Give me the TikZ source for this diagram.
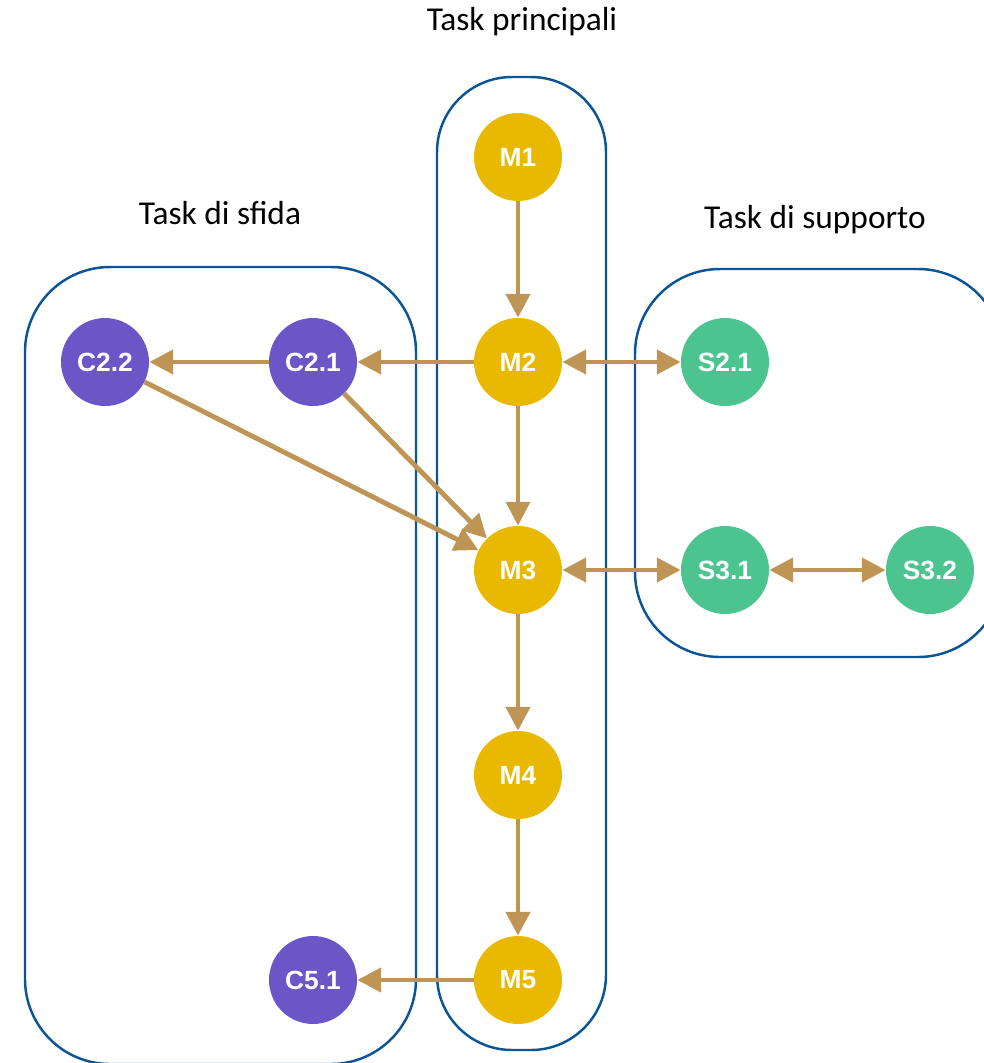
\documentclass[tikz,border=0pt]{standalone}
\usepackage{fontspec}
\setmainfont{Carlito}
\newfontfamily\nodefont{Liberation Sans}
\usetikzlibrary{arrows.meta,positioning}
\definecolor{taskmain}{HTML}{E8B900}
\definecolor{tasksfida}{HTML}{6A56C6}
\definecolor{tasksupp}{HTML}{4CC490}
\definecolor{freccia}{HTML}{BF9556}
\definecolor{bordo}{HTML}{0B5597}
\tikzset{
  task/.style={circle, minimum size=1.76cm, inner sep=0pt, text=white,
    font=\nodefont\bfseries\fontsize{15}{18}\selectfont},
  principale/.style={task, fill=taskmain},
  sfida/.style={task, fill=tasksfida},
  supporto/.style={task, fill=tasksupp},
  legame/.style={draw=freccia, line width=2.8pt,
    -{Triangle[length=13.5pt,width=13.5pt]}},
  doppio/.style={legame, {Triangle[length=13.5pt,width=13.5pt]}-{Triangle[length=13.5pt,width=13.5pt]}},
  gruppo/.style={draw=bordo, line width=1.4pt, rounded corners=1.7cm},
  titolo/.style={font=\fontsize{19}{23}\selectfont}
}
\begin{document}
\begin{tikzpicture}[x=0.02cm,y=-0.02cm]
		\useasboundingbox (0,0) rectangle (984,1063);
		\clip (0,0) rectangle (984,1063);
		% riquadri
		\draw[gruppo, rounded corners=1.5cm] (437,77) rectangle (606,1050);
		\draw[gruppo] (25,267) rectangle (416,1064);
		\draw[gruppo] (635,269) rectangle (1003,657);
		% titoli
		\node[titolo] (tprinc) at (522,22) {Task principali};
		\node[titolo] (tsfida) at (220,213) {Task di sfida};
		\node[titolo] (tsupp) at (815,220) {Task di supporto};
		% task principali
		\node[principale] (m1) at (518,157) {M1};
		\node[principale] (m2) at (518,362) {M2};
		\node[principale] (m3) at (518,570) {M3};
		\node[principale] (m4) at (518,775) {M4};
		\node[principale] (m5) at (518,980) {M5};
		% task di sfida
		\node[sfida] (c21) at (313,362) {C2.1};
		\node[sfida] (c22) at (105,362) {C2.2};
		\node[sfida] (c51) at (313,980) {C5.1};
		% task di supporto
		\node[supporto] (s21) at (725,362) {S2.1};
		\node[supporto] (s31) at (725,570) {S3.1};
		\node[supporto] (s32) at (930,570) {S3.2};
		% frecce
		\draw[legame] (m1) -- (m2);
		\draw[legame, line width=2pt] (m2) -- (m3);
		\draw[legame] (m3) -- (m4);
		\draw[legame] (m4) -- (m5);
		\draw[legame] (m2) -- (c21);
		\draw[legame] (c21) -- (c22);
		\draw[legame] (c21) -- (m3);
		\draw[legame] (c22) -- (m3);
		\draw[legame] (m5) -- (c51);
		\draw[doppio] (m2) -- (s21);
		\draw[doppio] (m3) -- (s31);
		\draw[doppio] (s31) -- (s32);
	\end{tikzpicture}
\end{document}
